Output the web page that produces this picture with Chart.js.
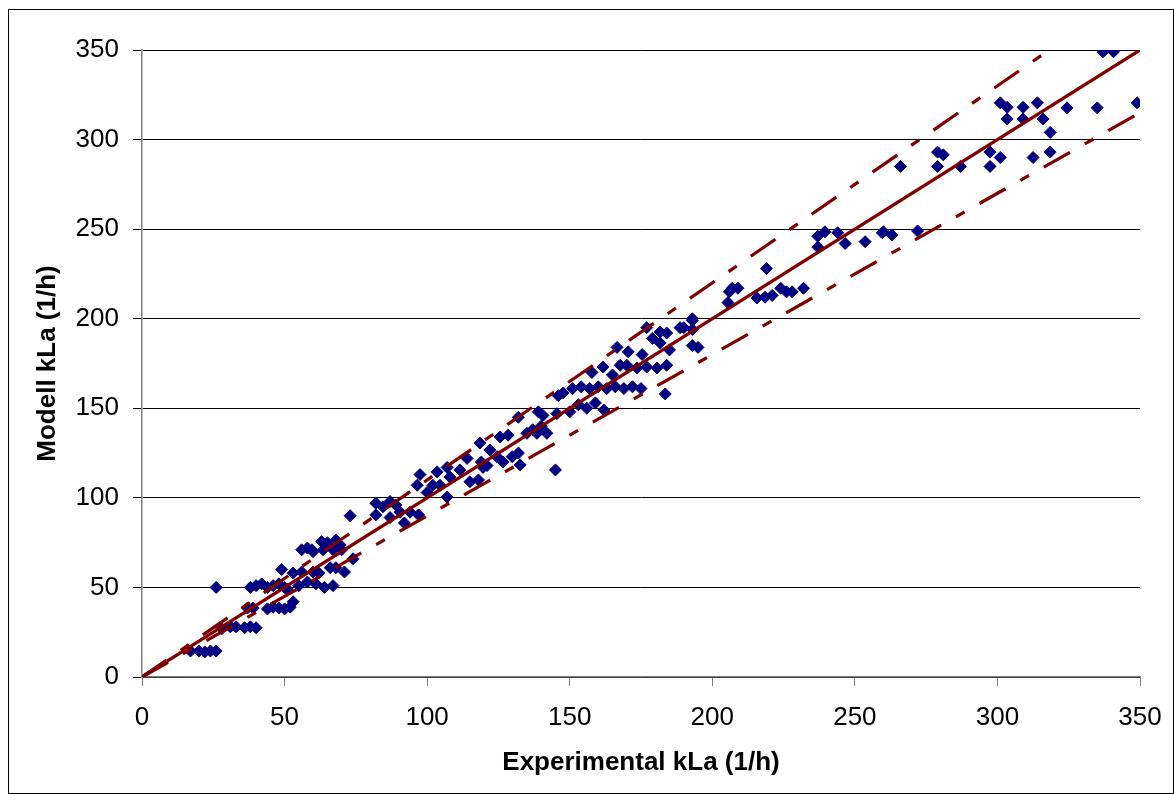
<!DOCTYPE html>
<html>
<head>
<meta charset="utf-8">
<script src="https://cdn.jsdelivr.net/npm/chart.js@4.4.1/dist/chart.umd.min.js"></script>
<style>
  html, body { margin: 0; padding: 0; background: #fff; }
  #wrap { position: relative; width: 1174px; height: 794px; overflow: hidden; }
  #frame { position: absolute; left: 8px; top: 9px; width: 1164px; height: 783px; border: 1px solid #000; box-sizing: content-box; }
  canvas { position: absolute; left: 0; top: 0; }
</style>
</head>
<body>
<div id="wrap">
  <div id="frame"></div>
  <canvas id="c" width="1174" height="794"></canvas>
</div>
<script>
// Experimental kLa (1/h)
const experimentalKLa = [
  17, 20, 22, 24, 26, 26,
  28, 31, 33, 36, 38, 40,
  37, 39, 44, 46, 48, 50, 52, 53,
  38, 40, 42, 44, 46, 48, 50, 51,
  49, 53, 55, 58, 61, 64, 67,
  56, 60, 62, 66, 68, 71,
  56, 59.6, 63, 65, 68, 69.5, 63.5, 67, 70, 60, 58,
  74, 73,
  82, 84.5, 87, 89, 90.5, 87, 82, 94, 97, 92,
  96.5, 102, 97.5, 103.5, 107, 108, 104.5, 107, 100,
  111.5, 114, 115, 118, 119, 119.6, 121,
  118.5, 122, 125.6, 128.4, 124.5, 126.6, 129.8, 132, 132.6,
  132, 135, 138.5, 139, 140.6, 142, 145, 145.5, 137, 140,
  146, 147.7,
  150, 153, 156, 159, 162,
  151, 154, 157, 160, 163, 166, 169, 172, 175,
  157.8, 161.7, 165, 167.7, 170, 173.6, 177, 180.6, 184,
  166.6, 170.5, 175.4, 179, 181.7, 184, 185, 177, 181.7, 188.7,
  183.5,
  193, 193, 193, 195, 190, 193,
  205.5, 206, 207, 209,
  215.7, 218.5, 221, 219,
  224, 226, 228, 232,
  237, 239.5, 237, 244, 246.6, 253.6, 259.6, 263,
  260, 266, 272,
  279, 281, 279, 287, 297.4, 301, 297.4, 312.5, 318.5,
  301, 303.4, 309, 314, 303.4, 309, 316, 318.5,
  324.4, 335, 349,
  337, 340.7
];
// Modell kLa (1/h)
const modellKLa = [
  14.5, 14.5, 14, 14.5, 14.5, 50,
  27, 28, 28, 27.5, 28, 27.5,
  38.5, 38.5, 38, 39, 38.5, 38, 39, 42,
  50, 51, 52, 50, 51, 52, 50, 49,
  60, 58, 51, 53, 52, 50, 51,
  58.6, 58.6, 58, 61, 61, 58.6,
  71, 71, 75.6, 75, 76.5, 73.7, 71, 71, 71, 70, 72,
  66, 90,
  97, 95, 98, 96, 92, 89, 90.5, 92, 90.5, 86,
  107, 107, 113, 114.5, 117, 111.6, 107, 100.5, 103,
  115.6, 122, 109, 110, 120, 117, 118,
  130.6, 126.7, 134, 135, 123, 120, 123, 125, 118.4,
  145, 136, 136, 148, 146, 136, 115.6, 147, 138, 140,
  157, 158.6,
  148, 152, 150, 153, 149,
  161, 162, 161, 162, 161, 162, 161, 162, 161,
  170, 173, 168.6, 174, 174, 172.5, 173, 172.5, 174,
  184, 181.5, 180, 189, 186.5, 192, 182.6, 195, 192.6, 195,
  158,
  200, 194, 185, 184, 195, 199,
  209, 215, 217, 217,
  211.6, 212, 213, 228,
  217, 215, 215, 217,
  246, 248.5, 240, 248, 242, 243, 248, 246.8,
  248.5, 285, 249,
  293, 291.5, 285, 285, 293, 290, 285, 290, 293,
  320.5, 318, 318, 320.5, 311.5, 311.5, 311.5, 304,
  317.7, 317.7, 320.5,
  349, 349
];
// Reference lines: y = factor * x (1:1 line and +/-10 % lines)
const refLineFactors = [1.0, 1.1, 0.9];
const refLineDashed = [false, true, true];
const axisMin = 0;
const axisMax = 350;
const tickStep = 50;
const xTitle = 'Experimental kLa (1/h)';
const yTitle = 'Modell kLa (1/h)';

const points = experimentalKLa.map((x, i) => ({ x: x, y: modellKLa[i] }));

const lineDatasets = refLineFactors.map((f, i) => {
  const xEnd = Math.min(axisMax, axisMax / f);
  return {
    type: 'line',
    data: [{ x: axisMin, y: axisMin * f }, { x: xEnd, y: xEnd * f }],
    borderColor: '#800000',
    borderWidth: 3.2,
    borderDash: refLineDashed[i] ? [30, 17, 10, 17] : [],
    pointRadius: 0,
    fill: false,
    tension: 0,
    order: 0
  };
});

const FONT = "'Liberation Sans', Arial, sans-serif";

new Chart(document.getElementById('c'), {
  type: 'scatter',
  data: {
    datasets: [
      ...lineDatasets,
      {
        data: points,
        pointStyle: 'rectRot',
        pointRadius: 6,
        pointBackgroundColor: '#000080',
        pointBorderColor: '#000080',
        pointBorderWidth: 1,
        showLine: false,
        order: 1
      }
    ]
  },
  options: {
    responsive: false,
    animation: false,
    devicePixelRatio: 1,
    layout: { padding: { left: 30, top: 50, right: 34, bottom: 10 } },
    plugins: { legend: { display: false }, tooltip: { enabled: false } },
    scales: {
      x: {
        type: 'linear',
        min: axisMin, max: axisMax,
        afterFit: (s) => { s.height = 794 - 677 - 10; s.paddingLeft = 0; s.paddingRight = 0; },
        ticks: { stepSize: tickStep, color: '#000', padding: 16, font: { family: FONT, size: 26 } },
        grid: { drawOnChartArea: false, drawTicks: true, tickLength: 9, color: '#808080', lineWidth: 1 },
        border: { display: true, color: '#808080', width: 1.5 },
        title: { display: true, text: xTitle, color: '#000', padding: { top: 0, bottom: 6 }, font: { family: FONT, size: 26, weight: 'bold' } }
      },
      y: {
        type: 'linear',
        min: axisMin, max: axisMax,
        afterFit: (s) => { s.width = 142 - 30; s.paddingTop = 0; s.paddingBottom = 0; },
        ticks: { stepSize: tickStep, color: '#000', padding: 14, font: { family: FONT, size: 26 } },
        grid: { drawOnChartArea: true, drawTicks: true, tickLength: 9, color: '#000', lineWidth: 1 },
        border: { display: true, color: '#808080', width: 1.5 },
        title: { display: true, text: yTitle, color: '#000', padding: { top: 2, bottom: 0 }, font: { family: FONT, size: 26, weight: 'bold' } }
      }
    }
  }
});
</script>
</body>
</html>
